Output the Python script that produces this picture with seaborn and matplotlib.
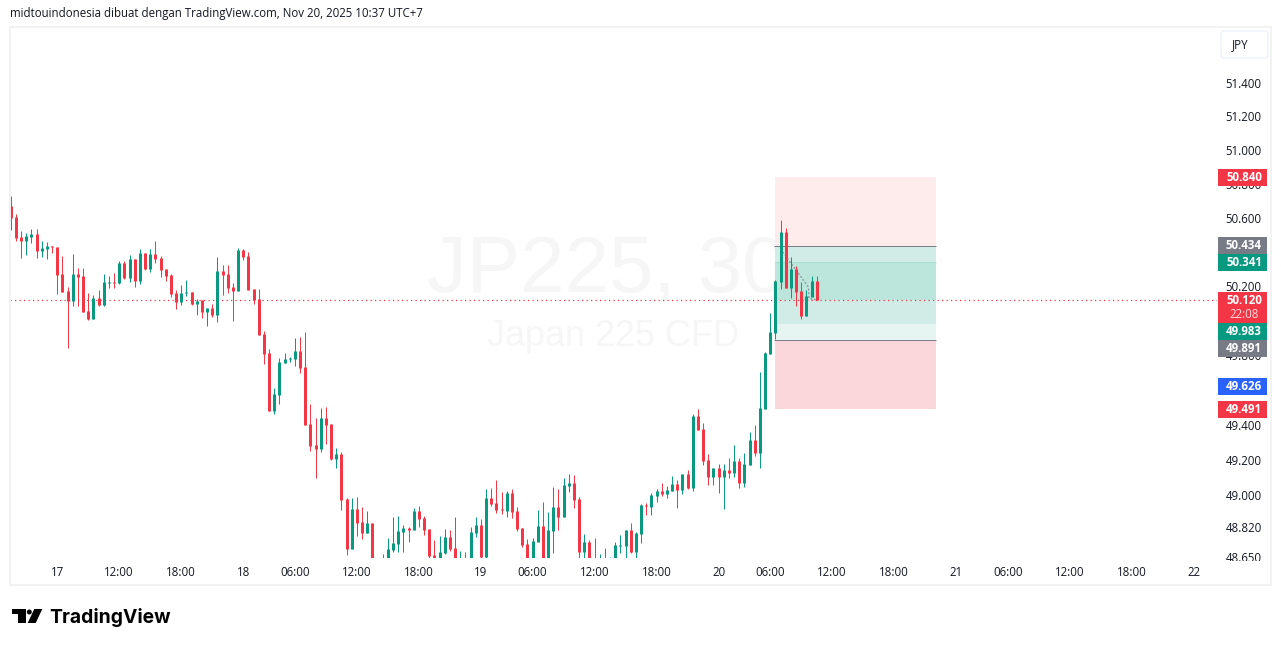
import matplotlib
matplotlib.use("Agg")
import matplotlib.pyplot as plt
import seaborn as sns
import pandas as pd
from matplotlib.transforms import Bbox
from matplotlib.patches import Rectangle, FancyBboxPatch, Polygon, Circle
from matplotlib.ticker import NullLocator

# JP225 30 minute candles, bar by bar
opens = [50.670, 50.606, 50.489, 50.465, 50.489, 50.506, 50.407, 50.418, 50.436, 50.430,
         50.272, 50.173, 50.114, 50.272, 50.260, 50.057, 50.010, 50.132, 50.091, 50.219,
         50.225, 50.219, 50.336, 50.249, 50.360, 50.231, 50.395, 50.301, 50.389, 50.366,
         50.301, 50.266, 50.161, 50.108, 50.161, 50.167, 50.097, 50.120, 50.051, 50.074,
         50.033, 50.290, 50.272, 50.196, 50.173, 50.413, 50.377, 50.184, 50.126, 49.924,
         49.814, 49.480, 49.572, 49.757, 49.780, 49.780, 49.826, 49.734, 49.406, 49.286,
         49.263, 49.440, 49.406, 49.206, 49.235, 48.978, 48.694, 48.921, 48.847, 48.785,
         48.841, 48.610, 48.587, 48.621, 48.689, 48.723, 48.791, 48.813, 48.802, 48.910,
         48.870, 48.808, 48.661, 48.621, 48.672, 48.763, 48.700, 48.585, 48.625, 48.626,
         48.785, 48.830, 48.649, 48.983, 48.955, 48.921, 48.910, 49.012, 48.910, 48.813,
         48.723, 48.621, 48.734, 48.825, 48.632, 48.796, 48.932, 48.876, 49.052, 49.069,
         48.978, 48.678, 48.734, 48.632, 48.590, 48.612, 48.590, 48.632, 48.712, 48.712,
         48.802, 48.678, 48.779, 48.944, 48.932, 48.994, 49.023, 49.006, 49.023, 49.063,
         49.029, 49.120, 49.040, 49.452, 49.377, 49.200, 49.103, 49.155, 49.103, 49.143,
         49.126, 49.195, 49.069, 49.172, 49.315, 49.240, 49.492, 49.809, 49.930, 50.225,
         50.518, 50.190, 50.301, 50.173, 50.028, 50.138, 50.231]
highs = [50.728, 50.623, 50.524, 50.512, 50.535, 50.535, 50.465, 50.459, 50.436, 50.430,
         50.377, 50.196, 50.389, 50.307, 50.307, 50.161, 50.149, 50.179, 50.272, 50.260,
         50.278, 50.348, 50.348, 50.383, 50.360, 50.418, 50.395, 50.418, 50.465, 50.377,
         50.301, 50.272, 50.179, 50.208, 50.237, 50.167, 50.126, 50.120, 50.074, 50.097,
         50.372, 50.325, 50.325, 50.219, 50.424, 50.418, 50.401, 50.184, 50.184, 49.941,
         49.837, 49.612, 49.786, 49.814, 49.791, 49.901, 49.907, 49.936, 49.520, 49.440,
         49.497, 49.503, 49.406, 49.269, 49.246, 48.983, 48.983, 48.989, 48.932, 48.910,
         48.841, 48.626, 48.666, 48.757, 48.876, 48.881, 48.830, 48.819, 48.927, 48.938,
         48.881, 48.808, 48.746, 48.768, 48.808, 48.802, 48.876, 48.683, 48.678, 48.819,
         48.876, 48.864, 49.035, 49.040, 49.086, 49.018, 49.023, 49.035, 48.932, 48.813,
         48.751, 48.757, 48.915, 48.961, 48.904, 49.046, 49.035, 49.098, 49.120, 49.115,
         48.989, 48.779, 48.746, 48.757, 48.666, 48.700, 48.649, 48.734, 48.774, 48.802,
         48.841, 48.791, 48.949, 48.955, 49.012, 49.035, 49.069, 49.052, 49.109, 49.086,
         49.120, 49.143, 49.463, 49.492, 49.412, 49.235, 49.155, 49.178, 49.178, 49.212,
         49.286, 49.212, 49.240, 49.360, 49.400, 49.705, 49.820, 50.045, 50.237, 50.588,
         50.541, 50.372, 50.319, 50.225, 50.179, 50.260, 50.260]
lows = [50.530, 50.465, 50.366, 50.383, 50.453, 50.366, 50.372, 50.360, 50.395, 50.155,
        50.167, 49.843, 50.085, 50.085, 50.051, 50.005, 50.010, 50.085, 50.085, 50.190,
        50.190, 50.214, 50.243, 50.225, 50.196, 50.214, 50.296, 50.284, 50.336, 50.255,
        50.231, 50.138, 50.068, 50.091, 50.143, 50.091, 50.033, 50.016, 49.970, 50.022,
        49.993, 50.149, 50.161, 49.999, 50.173, 50.354, 50.179, 50.097, 49.918, 49.751,
        49.480, 49.463, 49.520, 49.757, 49.762, 49.739, 49.699, 49.400, 49.252, 49.098,
        49.246, 49.292, 49.200, 49.155, 48.915, 48.661, 48.694, 48.768, 48.751, 48.785,
        48.598, 48.570, 48.570, 48.598, 48.678, 48.678, 48.678, 48.734, 48.802, 48.819,
        48.774, 48.644, 48.598, 48.604, 48.666, 48.683, 48.598, 48.570, 48.575, 48.621,
        48.763, 48.644, 48.644, 48.938, 48.898, 48.893, 48.876, 48.870, 48.796, 48.706,
        48.598, 48.598, 48.734, 48.609, 48.609, 48.672, 48.802, 48.876, 49.018, 48.927,
        48.632, 48.632, 48.604, 48.587, 48.575, 48.575, 48.575, 48.604, 48.672, 48.632,
        48.672, 48.644, 48.729, 48.887, 48.887, 48.961, 48.994, 48.983, 49.023, 48.927,
        49.006, 49.035, 49.023, 49.372, 49.172, 49.058, 49.058, 49.012, 48.921, 49.098,
        49.103, 49.040, 49.046, 49.172, 49.223, 49.155, 49.492, 49.809, 49.895, 50.184,
        50.190, 50.132, 50.085, 50.010, 50.028, 50.138, 50.120]
closes = [50.600, 50.483, 50.465, 50.494, 50.506, 50.407, 50.424, 50.436, 50.430, 50.266,
          50.167, 50.114, 50.272, 50.255, 50.051, 50.010, 50.132, 50.091, 50.225, 50.225,
          50.219, 50.336, 50.249, 50.360, 50.231, 50.395, 50.301, 50.389, 50.360, 50.296,
          50.260, 50.155, 50.108, 50.161, 50.167, 50.097, 50.114, 50.051, 50.074, 50.033,
          50.290, 50.266, 50.190, 50.173, 50.413, 50.372, 50.179, 50.120, 49.918, 49.809,
          49.480, 49.578, 49.762, 49.780, 49.786, 49.826, 49.728, 49.400, 49.280, 49.263,
          49.440, 49.400, 49.206, 49.235, 48.972, 48.694, 48.921, 48.841, 48.785, 48.841,
          48.621, 48.587, 48.615, 48.694, 48.729, 48.796, 48.813, 48.802, 48.910, 48.864,
          48.802, 48.655, 48.632, 48.678, 48.763, 48.694, 48.621, 48.625, 48.590, 48.791,
          48.830, 48.649, 48.983, 48.949, 48.915, 48.915, 49.012, 48.904, 48.808, 48.717,
          48.621, 48.740, 48.825, 48.632, 48.802, 48.932, 48.876, 49.058, 49.069, 48.972,
          48.678, 48.734, 48.621, 48.604, 48.610, 48.590, 48.615, 48.717, 48.717, 48.802,
          48.678, 48.785, 48.944, 48.938, 49.000, 49.023, 49.006, 49.029, 49.063, 49.029,
          49.120, 49.040, 49.452, 49.372, 49.195, 49.103, 49.155, 49.103, 49.143, 49.126,
          49.195, 49.069, 49.178, 49.315, 49.240, 49.497, 49.814, 49.936, 50.231, 50.518,
          50.190, 50.301, 50.167, 50.028, 50.143, 50.231, 50.120]

# axis labels, one per labelled bar
time_bars = [9, 21, 33, 45, 55, 67, 79, 91, 101, 113, 125, 137, 147, 159, 171, 183, 193, 205, 217, 229]
time_labels = ["17", "12:00", "18:00", "18", "06:00", "12:00", "18:00", "19", "06:00", "12:00",
               "18:00", "20", "06:00", "12:00", "18:00", "21", "06:00", "12:00", "18:00", "22"]
price_ticks = [51.4, 51.2, 51.0, 50.8, 50.6, 50.2, 49.8, 49.4, 49.2, 49.0, 48.82, 48.65]

# position tool levels
stop_top = 50.840
entry_a = 50.434
entry_b = 50.341
last_price = 50.120
target_a = 49.983
target_b = 49.891
blue_level = 49.626
stop_bottom = 49.491
tool_bars = [147.93, 179.09]
trend_bars = [149.0, 154.4, 154.5, 156.0]
trend_prices = [50.418, 50.196, 50.130, 50.120]

GREEN = "#089981"
RED = "#F23645"
GREY = "#787B86"
BLUE = "#2962FF"
INK = "#131722"
FONT = "Open Sans"

sns.set_theme(style="white")
plt.rcParams["font.family"] = [FONT, "DejaVu Sans"]

W, H = 1281, 646
PANE_L, PANE_R, PANE_T, PANE_B = 10, 1217, 27, 558
BAR_X0, BAR_STEP = 10.7, 5.1667

df = pd.DataFrame({"open": opens, "high": highs, "low": lows, "close": closes})
df["bar"] = range(len(df))
df["top"] = df[["open", "close"]].max(axis=1)
df["bottom"] = df[["open", "close"]].min(axis=1)
df["color"] = [GREEN if c > o else RED for o, c in zip(opens, closes)]

fig = plt.figure(figsize=(W / 100, H / 100), dpi=100, facecolor="white")
ax = fig.add_axes([PANE_L / W, 1 - PANE_B / H, (PANE_R - PANE_L) / W, (PANE_B - PANE_T) / H])
ax.set_facecolor("white")
ax.set_yscale("log")
ax.set_xlim((PANE_L - BAR_X0) / BAR_STEP, (PANE_R - BAR_X0) / BAR_STEP)
ax.set_ylim(48.644, 51.732)
for side in ax.spines.values():
    side.set_visible(False)

# watermark
ax.text((607 - PANE_L) / (PANE_R - PANE_L), (558 - 271) / 531, "JP225, 30", transform=ax.transAxes,
        fontsize=57.5, color="#F6F6F6", ha="center", va="center", zorder=0, family="Liberation Sans")
ax.text((613 - PANE_L) / (PANE_R - PANE_L), (558 - 337) / 531, "Japan 225 CFD", transform=ax.transAxes,
        fontsize=25.9, color="#F6F6F6", ha="center", va="center", zorder=0, family="Liberation Sans")

# position tool
ax.fill_between(tool_bars, entry_a, stop_top, color="#FEECED", lw=0, zorder=1)
ax.fill_between(tool_bars, target_b, entry_a, color="#E6F5F1", lw=0, zorder=1)
ax.fill_between(tool_bars, target_a, entry_a, color="#D1ECE6", lw=0, zorder=1.1)
ax.fill_between(tool_bars, last_price, entry_b, color="#BCE5DC", lw=0, zorder=1.2)
ax.fill_between(tool_bars, stop_bottom, target_b, color="#FBD7DB", lw=0, zorder=1)
ax.hlines(entry_b, *tool_bars, color="#A5DCCF", lw=0.71, zorder=1.3)
ax.hlines([entry_a, target_b], tool_bars[0] - 0.2, tool_bars[1], color=GREY, lw=0.71, zorder=1.4)

# last price line and the dashed trade path
ax.hlines(last_price, *ax.get_xlim(), color=RED, lw=0.9, linestyles=(0, (1, 2.6)), zorder=2)
sns.lineplot(x=trend_bars, y=trend_prices, ax=ax, color=GREY, lw=0.9, alpha=0.8,
             linestyle=(0, (1.5, 1.5)), zorder=2.2, legend=False, errorbar=None, sort=False)

# candles: snapped lines keep every body 3 px and every wick 1 px wide
wicks = ax.vlines(df["bar"], df["low"], df["high"], colors=df["color"], lw=0.71, zorder=3,
                  capstyle="butt")
bodies = ax.vlines(df["bar"], df["bottom"], df["top"], colors=df["color"], lw=2.15, zorder=3.1,
                   capstyle="butt")
wicks.set_snap(True)
bodies.set_snap(True)

# time and price axes
ax.set_xticks(time_bars, time_labels)
ax.tick_params(axis="x", length=0, pad=5.5, labelsize=8.3, labelcolor=INK)
ax.yaxis.tick_right()
ax.yaxis.set_minor_locator(NullLocator())
ax.set_yticks(price_ticks, [f"{p:.3f}" for p in price_ticks])
ax.tick_params(axis="y", length=0, pad=6.2, labelsize=8.3, labelcolor=INK, which="both")
for lab in ax.get_yticklabels():
    lab.set_clip_on(True)
    lab.set_clip_box(Bbox([[1210, H - 561], [W, H - 27]]))

# chrome layer in pixel coordinates
ui = fig.add_axes([0, 0, 1, 1], zorder=5)
ui.set_xlim(0, W)
ui.set_ylim(H, 0)
ui.axis("off")
ui.add_patch(Rectangle((10, 27), 1261, 558, fill=False, ec="#F2F2F2", lw=1.4))
ui.text(10, 14, "midtouindonesia dibuat dengan TradingView.com, Nov 20, 2025 10:37 UTC+7",
        fontsize=8.3, color=INK, va="center", ha="left")
ui.add_patch(FancyBboxPatch((1223, 33), 43, 23, boxstyle="round,pad=2,rounding_size=3",
                            fc="white", ec="#F0F3FA", lw=1.2))
ui.text(1240, 44.5, "JPY", fontsize=8.3, color=INK, ha="center", va="center")

tags = [(stop_top, 177.5, RED), (entry_a, 245.5, GREY), (entry_b, 262.5, GREEN),
        (target_a, 331.5, GREEN), (target_b, 348.5, GREY), (blue_level, 386, BLUE),
        (stop_bottom, 409, RED)]
for value, yc, col in tags:
    ui.add_patch(Rectangle((1218, yc - 8.5), 49, 17, fc=col, ec="none"))
    ui.text(1244, yc + 0.3, f"{value:.3f}", color="white", fontsize=8.3, fontweight="bold",
            ha="center", va="center")
ui.add_patch(Rectangle((1218, 292), 49, 31, fc=RED, ec="none"))
ui.text(1244, 300.5, f"{last_price:.3f}", color="white", fontsize=8.3, fontweight="bold",
        ha="center", va="center")
ui.text(1244, 314.5, "22:08", color="#FFDDE0", fontsize=8.3, ha="center", va="center")

# TradingView mark
ui.add_patch(Polygon([(12.3, 609), (25.7, 609), (25.7, 623), (18.3, 623), (18.3, 614), (12.3, 614)],
                     fc="black", ec="none"))
ui.add_patch(Circle((29.3, 612), 2.5, fc="black", ec="none"))
ui.add_patch(Polygon([(34.3, 609), (42.3, 609), (35.7, 623), (27.7, 623)], fc="black", ec="none"))
ui.text(49.5, 622.7, "TradingView", fontsize=13.9, fontweight="bold", color="black", family="Inter",
        ha="left", va="baseline")

fig.savefig("out.png", dpi=100)
